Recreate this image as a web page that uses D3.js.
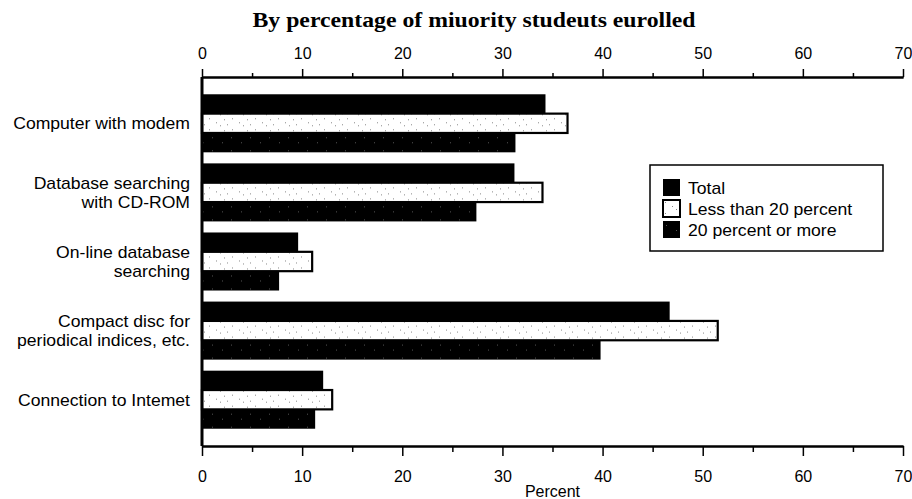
<!DOCTYPE html>
<html>
<head>
<meta charset="utf-8">
<script src="https://cdn.jsdelivr.net/npm/d3@7"></script>
<style>
body { margin: 0; background: #fff; }
text { font-family: "Liberation Sans", Arial, sans-serif; fill: #000; }
</style>
</head>
<body>
<svg id="chart" width="912" height="499"></svg>
<script>
// values
var categories = [
  ["Computer with modem"],
  ["Database searching", "with CD-ROM"],
  ["On-line database", "searching"],
  ["Compact disc for", "periodical indices, etc."],
  ["Connection to Intemet"]
];
var seriesNames = ["Total", "Less than 20 percent", "20 percent or more"];
var total = [34.3, 31.2, 9.6, 46.7, 12.1];
var lessThan20 = [36.5, 34.0, 11.0, 51.5, 13.0];
var twentyOrMore = [31.3, 27.4, 7.7, 39.8, 11.3];
var majorTicks = [0, 10, 20, 30, 40, 50, 60, 70];
var minorTicks = [5, 15, 25, 35, 45, 55, 65];

var svg = d3.select("#chart");
var plotLeft = 202, plotRight = 903, plotTop = 77, plotBottom = 446;
var widen = 1.1; // the scanned sans type runs a bit wider than Arial

var x = d3.scaleLinear().domain([0, 70]).range([plotLeft, plotRight]);
var y = d3.scaleBand().domain(d3.range(categories.length))
    .range([plotTop, plotBottom]).paddingInner(0.16).paddingOuter(0.25);
var ys = d3.scaleBand().domain(d3.range(3)).range([0, y.bandwidth()]);

// speckle patterns to imitate the scanned shading
var defs = svg.append("defs");
var pLight = defs.append("pattern").attr("id", "speck").attr("patternUnits", "userSpaceOnUse")
    .attr("width", 23).attr("height", 11);
pLight.append("rect").attr("width", 23).attr("height", 11).attr("fill", "#fff");
[[2,2],[9,6],[17,3],[13,9],[20,8]].forEach(function(p) {
  pLight.append("rect").attr("x", p[0]).attr("y", p[1]).attr("width", 1).attr("height", 1).attr("fill", "#888");
});
var pDark = defs.append("pattern").attr("id", "darkspeck").attr("patternUnits", "userSpaceOnUse")
    .attr("width", 19).attr("height", 13);
pDark.append("rect").attr("width", 19).attr("height", 13).attr("fill", "#000");
[[3,4],[13,9]].forEach(function(p) {
  pDark.append("rect").attr("x", p[0]).attr("y", p[1]).attr("width", 1).attr("height", 1).attr("fill", "#555");
});

var fills = ["#000", "url(#speck)", "url(#darkspeck)"];
var series = [total, lessThan20, twentyOrMore];

// title
svg.append("text")
    .attr("x", 474).attr("y", 27)
    .attr("text-anchor", "middle")
    .attr("textLength", 443).attr("lengthAdjust", "spacingAndGlyphs")
    .style("font-family", "'Liberation Serif', 'Times New Roman', serif")
    .style("font-weight", "bold").style("font-size", "22px")
    .text("By percentage of miuority studeuts eurolled");

// bars
var groups = svg.selectAll(".grp").data(categories).enter().append("g")
    .attr("class", "grp")
    .attr("transform", function(d, i) { return "translate(0," + y(i) + ")"; });

series.forEach(function(vals, s) {
  groups.append("rect")
      .attr("x", x(0))
      .attr("y", ys(s))
      .attr("width", function(d, i) { return x(vals[i]) - x(0); })
      .attr("height", ys.bandwidth())
      .attr("fill", fills[s])
      .attr("stroke", s == 1 ? "#000" : "none")
      .attr("stroke-width", s == 1 ? 2.2 : 0);
});

// category labels
var lineGap = 18.5;
groups.append("text")
    .attr("text-anchor", "end")
    .attr("transform", "translate(190,0) scale(" + widen + ",1)")
    .style("font-size", "16px")
    .each(function(d) {
      var t = d3.select(this);
      var mid = y.bandwidth() / 2 + 6;
      var off = (d.length - 1) * lineGap / 2;
      d.forEach(function(line, k) {
        t.append("tspan").attr("x", 0).attr("y", mid - off + k * lineGap).text(line);
      });
    });

// axes
var topAxis = svg.append("g").attr("transform", "translate(0," + plotTop + ")")
    .call(d3.axisTop(x).tickValues(majorTicks).tickSize(8).tickSizeOuter(0).tickPadding(10).tickFormat(d3.format("d")));
var topMinor = svg.append("g").attr("transform", "translate(0," + plotTop + ")")
    .call(d3.axisTop(x).tickValues(minorTicks).tickSize(4).tickSizeOuter(0).tickFormat(""));
var botAxis = svg.append("g").attr("transform", "translate(0," + plotBottom + ")")
    .call(d3.axisBottom(x).tickValues(majorTicks).tickSize(10).tickSizeOuter(0).tickPadding(15).tickFormat(d3.format("d")));
var botMinor = svg.append("g").attr("transform", "translate(0," + plotBottom + ")")
    .call(d3.axisBottom(x).tickValues(minorTicks).tickSize(6).tickSizeOuter(0).tickFormat(""));

[topAxis, topMinor, botAxis, botMinor].forEach(function(a) {
  a.selectAll("path").attr("stroke", "#000").attr("stroke-width", 2);
  a.selectAll("line").attr("stroke", "#000").attr("stroke-width", 1.5);
  a.selectAll("text").style("font-size", "16px").style("font-family", "'Liberation Sans', Arial, sans-serif").attr("fill", "#000");
});

// left axis line
svg.append("line")
    .attr("x1", x(0)).attr("x2", x(0))
    .attr("y1", plotTop).attr("y2", plotBottom)
    .attr("stroke", "#000").attr("stroke-width", 3);

svg.append("text")
    .attr("x", (plotLeft + plotRight) / 2).attr("y", 497)
    .attr("text-anchor", "middle")
    .style("font-size", "16px")
    .text("Percent");

// legend
var legend = svg.append("g").attr("transform", "translate(650,165)");
legend.append("rect").attr("width", 233).attr("height", 86)
    .attr("fill", "#fff").attr("stroke", "#000").attr("stroke-width", 1.5);
seriesNames.forEach(function(name, s) {
  var row = legend.append("g").attr("transform", "translate(13," + (14 + s * 21) + ")");
  row.append("rect").attr("width", 17).attr("height", 17)
      .attr("fill", fills[s])
      .attr("stroke", s == 1 ? "#000" : "none").attr("stroke-width", 2);
  row.append("text")
      .attr("transform", "translate(25,14.5) scale(" + widen + ",1)")
      .style("font-size", "16px").text(name);
});
</script>
</body>
</html>
